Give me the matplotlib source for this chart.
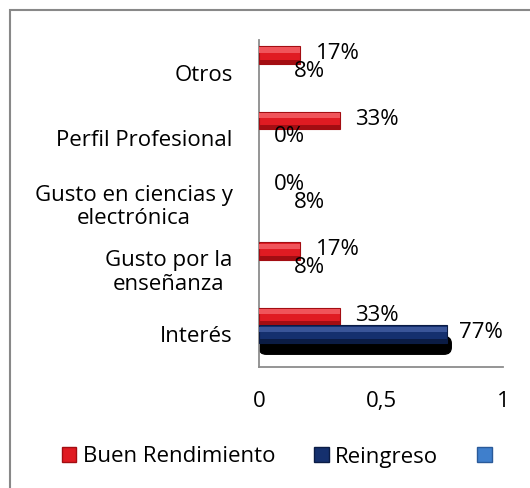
import matplotlib
matplotlib.use("Agg")
import matplotlib.pyplot as plt
from matplotlib.patches import Patch, Rectangle, FancyBboxPatch
import numpy as np

plt.rcParams['font.family'] = ['Open Sans', 'DejaVu Sans']

# data (bottom to top as drawn)
categorias = ['Interés', 'Gusto por la\nenseñanza', 'Gusto en ciencias y\nelectrónica',
              'Perfil Profesional', 'Otros']
buen_rend = [0.33, 0.17, 0.0, 0.33, 0.17]
reingreso = [0.77, 0.08, 0.08, 0.0, 0.08]
reingreso_relleno = [True, False, False, False, False]   # solo se ve la barra de Interés
tercera = [0, 0, 0, 0, 0]
series = ['Buen Rendimiento', 'Reingreso', '']
xticks = [0, 0.5, 1]
xticklabels = ['0', '0,5', '1']

W, H = 530, 488
FS = 16
fig = plt.figure(figsize=(W / 100, H / 100), dpi=100)
ax = fig.add_axes([259 / W, 1 - 367 / H, (503 - 259) / W, (367 - 40) / H])

# marco del grafico
fig.patches.append(Rectangle((10 / W, -0.1), 1.2, 1 - 10 / H + 0.1, transform=fig.transFigure,
                             fill=False, edgecolor='#888888', linewidth=1.5))

y = np.arange(len(categorias))
h = 0.27

def barra(ys, vals, base, claro, oscuro, visibles=None, sombra=False):
    for i, (yy, v) in enumerate(zip(ys, vals)):
        if visibles is not None and not visibles[i]:
            continue
        if v <= 0:
            continue
        if sombra:
            ax.add_patch(FancyBboxPatch((0, yy - h / 2 - 0.17), v + 0.018, h,
                                        boxstyle='round,pad=0,rounding_size=0.03',
                                        mutation_aspect=3.5, color='black', zorder=2))
        ax.barh(yy, v, height=h, color=base, edgecolor=oscuro, linewidth=0.8, zorder=3)
        ax.barh(yy + h * 0.28, v, height=h * 0.3, color=claro, linewidth=0, zorder=4)
        ax.barh(yy - h * 0.38, v, height=h * 0.22, color=oscuro, linewidth=0, zorder=4)

barra(y + h, buen_rend, '#e01b22', '#f0545a', '#a30d12')
barra(y, reingreso, '#15306e', '#3a5598', '#0b1c45', reingreso_relleno, sombra=True)

for yy, v in zip(y + h, buen_rend):
    ax.annotate(f'{v:.0%}', (v, yy), xytext=(11, 1), textcoords='offset points',
                ha='left', va='center', fontsize=FS, zorder=6)
for yy, v in zip(y, reingreso):
    ax.annotate(f'{v:.0%}', (v, yy), xytext=(11 if v < 0.5 else 9, 1), textcoords='offset points',
                ha='left', va='center', fontsize=FS, zorder=6)

ax.set_xlim(0, 1)
ax.set_ylim(-0.5, len(categorias) - 0.5)
ax.set_xticks(xticks)
ax.set_xticklabels(xticklabels, fontsize=FS)
ax.set_yticks(y)
ax.set_yticklabels(categorias, fontsize=FS, linespacing=1.15)
for lbl in ax.get_yticklabels():
    lbl.set_multialignment('center')
ax.tick_params(axis='x', length=0, pad=17)
ax.tick_params(axis='y', length=0, pad=19)
for s in ['top', 'right']:
    ax.spines[s].set_visible(False)
for s in ['left', 'bottom']:
    ax.spines[s].set_color('#8c8c8c')
    ax.spines[s].set_linewidth(1.3)

handles = [Patch(facecolor='#e01b22', edgecolor='#a30d12'),
           Patch(facecolor='#15306e', edgecolor='#0b1c45'),
           Patch(facecolor='#3f7fcc', edgecolor='#2a5a99')]
fig.legend(handles, series, loc='center', bbox_to_anchor=(280 / W, 1 - 457 / H), ncol=3,
           frameon=False, fontsize=FS, handlelength=0.65, handleheight=0.65,
           handletextpad=0.3, columnspacing=1.75, borderaxespad=0)

fig.savefig('out.png', dpi=100)
